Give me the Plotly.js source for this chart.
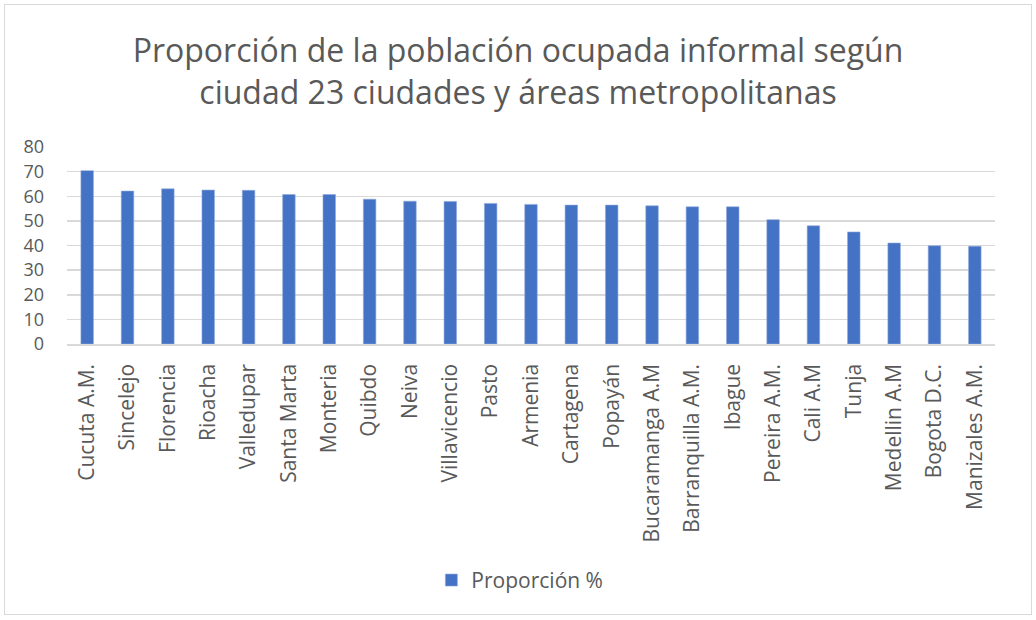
<!DOCTYPE html>
<html>
<head>
<meta charset="utf-8">
<script src="https://cdn.plot.ly/plotly-3.0.1.min.js"></script>
<style>
  body { margin: 0; background: #fff; }
  #wrap { position: relative; width: 1036px; height: 620px; }
  #chart { position: absolute; left: 0; top: 0; width: 1036px; height: 620px; }
  #frame { position: absolute; left: 4px; top: 4px; width: 1026px; height: 609px; border: 1px solid #d9d9d9; pointer-events: none; }
</style>
</head>
<body>
<div id="wrap">
  <div id="chart"></div>
  <div id="frame"></div>
</div>
<script>
const ciudades = ["Cucuta A.M.", "Sincelejo", "Florencia", "Rioacha", "Valledupar", "Santa Marta", "Monteria", "Quibdo", "Neiva", "Villavicencio", "Pasto", "Armenia", "Cartagena", "Popayán", "Bucaramanga A.M", "Barranquilla A.M.", "Ibague", "Pereira A.M.", "Cali A.M", "Tunja", "Medellin A.M", "Bogota D.C.", "Manizales A.M."];
const proporcion = [70.4, 62.1, 63.0, 62.5, 62.4, 60.7, 60.7, 58.8, 58.0, 57.9, 57.1, 56.7, 56.4, 56.4, 56.1, 55.7, 55.7, 50.5, 48.0, 45.5, 41.0, 39.9, 39.7];
const serieNombre = "Proporción %";
const tituloTexto = "Proporción de la población ocupada informal según<br>ciudad 23 ciudades y áreas metropolitanas";
const yTicks = [0, 10, 20, 30, 40, 50, 60, 70, 80];

const fontFam = "Open Sans, Noto Sans, sans-serif";
const gray = "#595959";

Plotly.newPlot("chart", [{
  type: "bar",
  x: ciudades,
  y: proporcion,
  name: serieNombre,
  showlegend: true,
  marker: { color: "#4472c4", line: { color: "#8faadc", width: 0.6 } },
  width: 0.31,
  hoverinfo: "x+y"
}], {
  width: 1036,
  height: 620,
  paper_bgcolor: "rgba(0,0,0,0)",
  plot_bgcolor: "#ffffff",
  margin: { l: 67, r: 41, t: 147, b: 276 },
  title: {
    text: tituloTexto,
    font: { family: fontFam, size: 32, color: gray },
    x: 0.5, xanchor: "center",
    y: 0.9, yanchor: "middle", yref: "container"
  },
  xaxis: {
    type: "category",
    tickangle: -90,
    tickfont: { family: fontFam, size: 21, color: gray },
    showgrid: false,
    showline: true,
    linecolor: "#d9d9d9",
    linewidth: 1.5,
    ticks: "",
    ticklen: 0,
    ticklabelstandoff: 10,
    automargin: false,
    range: [-0.5, ciudades.length - 0.5]
  },
  yaxis: {
    range: [0, 80],
    tickvals: yTicks,
    ticktext: yTicks.map(String),
    tickfont: { family: fontFam, size: 18, color: gray },
    showgrid: true,
    gridcolor: "#d9d9d9",
    gridwidth: 1.5,
    zeroline: false,
    showline: false,
    ticks: "",
    ticklabelstandoff: 22,
    automargin: false
  },
  legend: {
    orientation: "h",
    x: 0.488, xanchor: "center",
    y: -1.2, yanchor: "middle",
    font: { family: fontFam, size: 21, color: gray },
    itemwidth: 30
  },
  bargap: 0.69
}, { displayModeBar: false, staticPlot: true });
</script>
</body>
</html>
